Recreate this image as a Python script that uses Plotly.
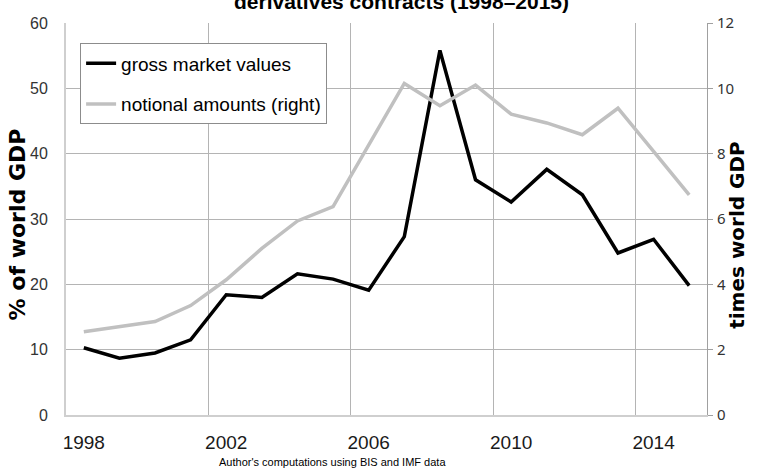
import plotly.graph_objects as go

years = list(range(1998, 2016))
gross_market_values = [10.3, 8.7, 9.5, 11.5, 18.4, 18.0, 21.6, 20.8, 19.1, 27.3,
                       55.8, 36.0, 32.6, 37.6, 33.7, 24.8, 26.9, 19.8]
notional_amounts = [2.55, 2.71, 2.86, 3.35, 4.14, 5.1, 5.94, 6.38, 8.25, 10.15,
                    9.47, 10.1, 9.21, 8.94, 8.58, 9.39, 8.07, 6.74]
x_tick_labels = ["1998", "2002", "2006", "2010", "2014"]
left_ticks = [0, 10, 20, 30, 40, 50, 60]
right_ticks = [0, 2, 4, 6, 8, 10, 12]

fig = go.Figure()
fig.add_trace(go.Scatter(
    x=years, y=gross_market_values, mode="lines", name="gross market values",
    line=dict(color="#000000", width=3.5), legendgroup="a", yaxis="y"))
fig.add_trace(go.Scatter(
    x=years, y=notional_amounts, mode="lines", name="notional amounts (right)",
    line=dict(color="#c0c0c0", width=3.5), legendgroup="b", yaxis="y2"))

grid = "#b4b4b4"
fig.update_layout(
    width=761, height=472,
    margin=dict(l=66, r=54, t=19, b=57),
    paper_bgcolor="white", plot_bgcolor="white",
    font=dict(family="Liberation Sans, Arial", color="#000"),
    showlegend=True,
    legend=dict(x=0.022, y=0.948, xanchor="left", yanchor="top",
                bordercolor="#8c8c8c", borderwidth=1, bgcolor="white",
                font=dict(size=19, color="#000"), tracegroupgap=13,
                itemwidth=30),
    xaxis=dict(range=[1997.5, 2015.5], tickmode="array",
               tickvals=[int(t) for t in x_tick_labels], ticktext=x_tick_labels,
               showgrid=False, showline=True, linecolor="#cfcfcf", linewidth=2,
               ticks="", tickfont=dict(size=19, color="#1a1a1a"),
               ticklabelstandoff=9, zeroline=False),
    xaxis2=dict(range=[1997.5, 2015.5], overlaying="x", tickmode="array",
                tickvals=[1997.5 + 4 * k for k in range(1, 5)], showticklabels=False,
                showgrid=True, gridcolor=grid, gridwidth=1, ticks="", showline=False,
                zeroline=False),
    yaxis=dict(range=[0, 60], tickvals=left_ticks, showgrid=True, gridcolor=grid,
               gridwidth=1, showline=True, linecolor="#cfcfcf", linewidth=2,
               ticks="", tickfont=dict(size=16, color="#333"), ticklabelstandoff=13,
               zeroline=False),
    yaxis2=dict(range=[0, 12], tickvals=right_ticks, overlaying="y", side="right",
                showgrid=False, showline=True, linecolor="#a0a0a0", linewidth=1,
                ticks="outside", ticklen=5, tickcolor="#a0a0a0",
                tickfont=dict(size=15, color="#333", family="Noto Sans"),
                ticklabelstandoff=1, zeroline=False),
    annotations=[
        dict(text="<b>derivatives contracts (1998–2015)</b>", xref="paper", yref="paper",
             x=0.524, y=1.02, xanchor="center", yanchor="bottom", showarrow=False,
             font=dict(size=21, color="#000")),
        dict(text="<b>% of world GDP</b>", xref="paper", yref="paper",
             x=-0.076, y=0.487, xanchor="center", yanchor="middle", textangle=-90,
             showarrow=False, font=dict(size=22, color="#000", family="DejaVu Sans")),
        dict(text="<b>times world GDP</b>", xref="paper", yref="paper",
             x=1.047, y=0.46, xanchor="center", yanchor="middle", textangle=-90,
             showarrow=False, font=dict(size=20, color="#000", family="DejaVu Sans")),
        dict(text="Author's computations using BIS and IMF data", xref="paper",
             yref="paper", x=0.4165, y=-0.121, xanchor="center", yanchor="middle",
             showarrow=False, font=dict(size=11, color="#000")),
    ],
)
# invisible trace to activate the gridline axis
fig.add_trace(go.Scatter(x=[1997.5], y=[0], xaxis="x2", yaxis="y", mode="markers",
                         marker=dict(opacity=0), showlegend=False, hoverinfo="skip"))
fig.write_html("out.html", config={"displayModeBar": False},
               post_script="document.body.style.margin='0';")
